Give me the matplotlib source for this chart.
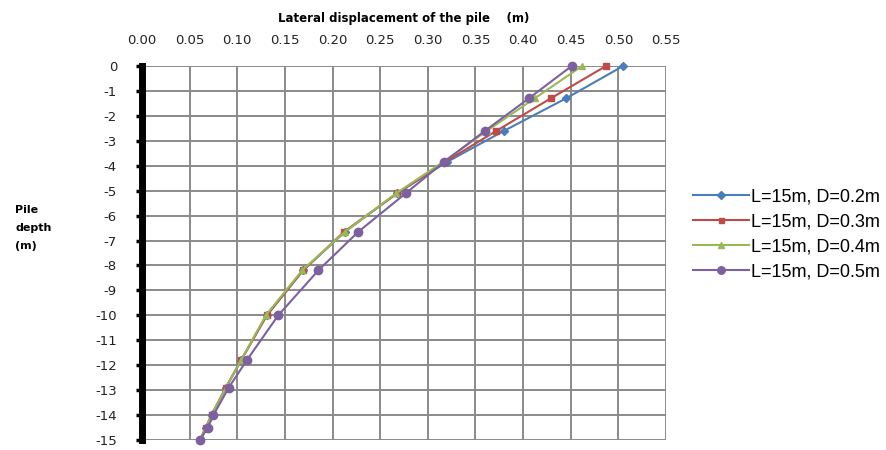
import numpy as np
import matplotlib.pyplot as plt

# pile depth (m) and lateral displacement (m) for each pile diameter
depth = [0, -1.3, -2.6, -3.85, -5.1, -6.65, -8.2, -10.0, -11.8, -12.9, -14.0, -14.5, -15.0]
disp_d02 = [0.505, 0.445, 0.380, 0.320, 0.268, 0.213, 0.169, 0.131, 0.104, 0.088, 0.073, 0.067, 0.061]
disp_d03 = [0.487, 0.429, 0.372, 0.318, 0.268, 0.212, 0.169, 0.131, 0.104, 0.088, 0.073, 0.067, 0.061]
disp_d04 = [0.462, 0.412, 0.362, 0.316, 0.267, 0.213, 0.168, 0.130, 0.104, 0.088, 0.073, 0.067, 0.061]
disp_d05 = [0.451, 0.406, 0.360, 0.317, 0.277, 0.227, 0.185, 0.143, 0.110, 0.091, 0.075, 0.069, 0.061]

labels = ['L=15m, D=0.2m', 'L=15m, D=0.3m', 'L=15m, D=0.4m', 'L=15m, D=0.5m']
x_ticks = np.arange(0, 0.551, 0.05)
y_ticks = np.arange(0, -16, -1)

fig = plt.figure(figsize=(8.86, 4.5), dpi=100)
ax = fig.add_axes([142/886, 1 - 440/450, (666-142)/886, (440-66)/450])

series = [
    (disp_d02, '#4A7EBB', 'D', 4),
    (disp_d03, '#BE4B48', 's', 4),
    (disp_d04, '#98B954', '^', 5),
    (disp_d05, '#7D60A0', 'o', 6),
]
for (xs, col, mk, ms), lab in zip(series, labels):
    ax.plot(xs, depth, color=col, marker=mk, markersize=ms, linewidth=1.5,
            label=lab, clip_on=False, zorder=3)

ax.set_xlim(0, 0.55)
ax.set_ylim(-15, 0)
ax.xaxis.tick_top()
ax.xaxis.set_label_position('top')
ax.set_xticks(x_ticks)
ax.set_xticklabels([f'{v:.2f}' for v in x_ticks], fontsize=9.5, color='#222222')
ax.set_yticks(y_ticks)
ax.set_yticklabels([f'{v:d}' for v in y_ticks], fontsize=9.5, color='#222222')
ax.tick_params(axis='x', length=0, pad=14)
ax.tick_params(axis='y', length=4, width=2.5, color='black', pad=14)

ax.grid(True, color='#8a8a8a', linewidth=1.4)
ax.set_axisbelow(True)
for s in ['top', 'right', 'bottom']:
    ax.spines[s].set_visible(False)
ax.spines['left'].set_linewidth(5)
ax.spines['left'].set_color('black')

ax.set_xlabel('Lateral displacement of the pile    (m)', fontsize=8.5,
              fontweight='bold', labelpad=8)
fig.text(15/886, 1 - 228/450, 'Pile\ndepth\n(m)', fontsize=8, fontweight='bold',
         va='center', ha='left', linespacing=2.0)

leg = ax.legend(loc='center left', bbox_to_anchor=(1.02, 0.55), frameon=False,
                handlelength=3.1, labelspacing=0.45, handletextpad=0.1,
                markerscale=0.9,
                prop={'family': 'Liberation Sans', 'size': 13})

fig.savefig('out.png', dpi=100)
